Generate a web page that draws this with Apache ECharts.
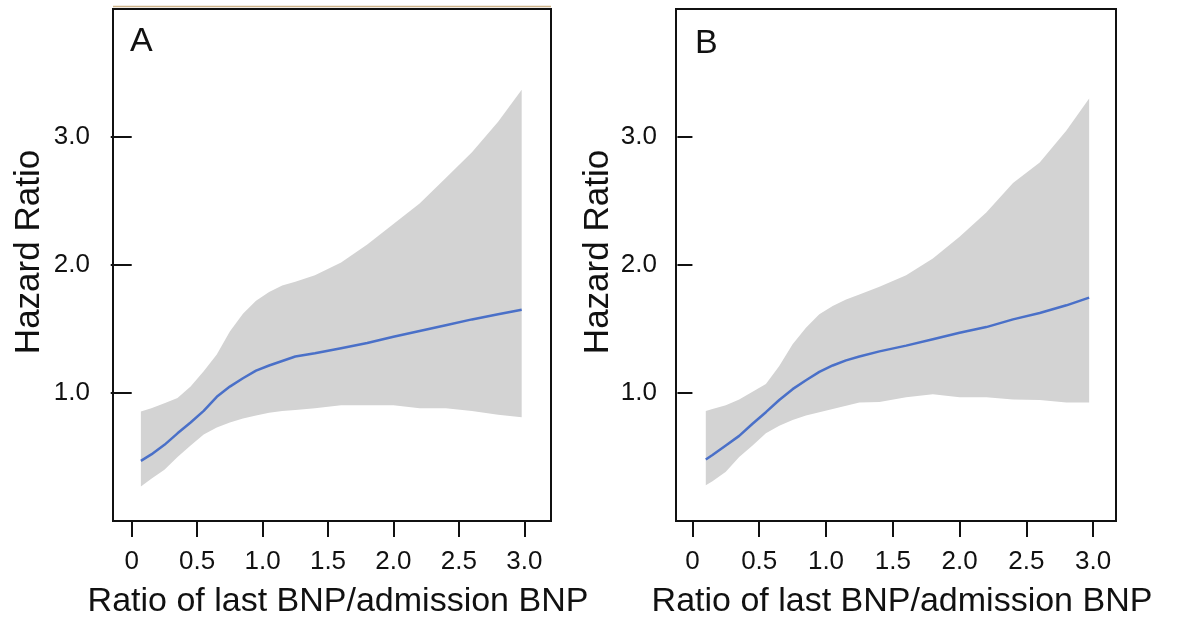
<!DOCTYPE html>
<html>
<head>
<meta charset="utf-8">
<script src="https://cdn.jsdelivr.net/npm/echarts@6/dist/echarts.min.js"></script>
<style>
html,body{margin:0;padding:0;background:#fff;}
#chart{width:1183px;height:625px;}
</style>
</head>
<body>
<div id="chart"></div>
<script>
// ---- Data ----
const xA    = [0.07,0.15,0.25,0.35,0.45,0.55,0.65,0.75,0.85,0.95,1.05,1.15,1.25,1.4,1.6,1.8,2.0,2.2,2.4,2.6,2.8,2.98];
const meanA = [0.47,0.52,0.595,0.685,0.77,0.86,0.97,1.05,1.115,1.175,1.215,1.25,1.285,1.31,1.35,1.39,1.44,1.485,1.53,1.575,1.615,1.65];
const lowA  = [0.27,0.33,0.40,0.50,0.59,0.675,0.73,0.77,0.80,0.825,0.845,0.86,0.868,0.88,0.905,0.905,0.905,0.88,0.88,0.86,0.83,0.81];
const upA   = [0.855,0.88,0.92,0.96,1.05,1.17,1.30,1.48,1.62,1.72,1.79,1.84,1.87,1.92,2.02,2.16,2.32,2.48,2.68,2.88,3.12,3.37];

const xB    = [0.10,0.15,0.25,0.35,0.45,0.55,0.65,0.75,0.85,0.95,1.05,1.15,1.25,1.4,1.6,1.8,2.0,2.2,2.4,2.6,2.8,2.97];
const meanB = [0.48,0.515,0.59,0.665,0.76,0.85,0.945,1.03,1.10,1.165,1.215,1.255,1.285,1.325,1.37,1.42,1.47,1.515,1.575,1.625,1.685,1.745];
const lowB  = [0.28,0.31,0.385,0.50,0.59,0.685,0.745,0.79,0.825,0.85,0.875,0.90,0.925,0.93,0.966,0.99,0.966,0.966,0.95,0.945,0.925,0.925];
const upB   = [0.86,0.875,0.905,0.95,1.01,1.07,1.21,1.38,1.51,1.615,1.68,1.73,1.77,1.83,1.92,2.05,2.22,2.41,2.64,2.80,3.05,3.30];

const xTicks = [0,0.5,1.0,1.5,2.0,2.5,3.0];
const yTicks = [1.0,2.0,3.0];
const panelLabels = ['A','B'];
const xTitle = 'Ratio of last BNP/admission BNP';
const yTitle = 'Hazard Ratio';

// ---- Styling ----
const FONT = "'Liberation Sans', Arial, Helvetica, sans-serif";
const INK = '#111';
const BAND = '#d3d3d3';
const LINE = '#4a70c8';

const fmt = v => (v === 0 ? '0' : Number(v).toFixed(1));

function bandRender(xs, lo, hi) {
  return function (params, api) {
    if (params.dataIndex !== 0) return null;
    const pts = [];
    for (let i = 0; i < xs.length; i++) pts.push(api.coord([xs[i], hi[i]]));
    for (let i = xs.length - 1; i >= 0; i--) pts.push(api.coord([xs[i], lo[i]]));
    return { type: 'polygon', shape: { points: pts }, style: { fill: BAND } };
  };
}

function xAxisCfg(gi, min, max) {
  return {
    gridIndex: gi, type: 'value', min: min, max: max, position: 'bottom', offset: 3,
    axisLine: { show: false },
    axisTick: { show: true, inside: false, length: 16, customValues: xTicks, lineStyle: { color: INK, width: 2 } },
    axisLabel: { customValues: xTicks, formatter: fmt, fontSize: 26, color: INK, margin: 25, fontFamily: FONT },
    splitLine: { show: false },
    name: xTitle, nameLocation: 'middle', nameGap: 61,
    nameTextStyle: { fontSize: 34, color: INK, fontFamily: FONT, padding: [0, 0, 0, 12] }
  };
}
function yAxisCfg(gi, tickLen, margin, gap) {
  return {
    gridIndex: gi, type: 'value', min: 0, max: 4,
    axisLine: { show: false },
    axisTick: { show: true, inside: false, length: tickLen, customValues: yTicks, lineStyle: { color: INK, width: 2 } },
    axisLabel: { customValues: yTicks, formatter: fmt, fontSize: 26, color: INK, margin: margin, fontFamily: FONT },
    splitLine: { show: false },
    name: yTitle, nameLocation: 'middle', nameGap: gap, nameRotate: 90,
    nameTextStyle: { fontSize: 35, color: INK, fontFamily: FONT, padding: [0, 0, 0, 26] }
  };
}

const chart = echarts.init(document.getElementById('chart'), null, { renderer: 'canvas' });
chart.setOption({
  animation: false,
  backgroundColor: '#fff',
  title: [
    { text: panelLabels[0], left: 125, top: 20, textStyle: { fontSize: 34, fontWeight: 'normal', color: INK, fontFamily: FONT } },
    { text: panelLabels[1], left: 690, top: 22, textStyle: { fontSize: 34, fontWeight: 'normal', color: INK, fontFamily: FONT } }
  ],
  graphic: [
    { type: 'line', shape: { x1: 113, y1: 6.5, x2: 551, y2: 6.5 }, style: { stroke: '#cdb38a', lineWidth: 1.5 }, z: 10, silent: true }
  ],
  grid: [
    { left: 113, top: 9, width: 438, height: 512, show: true, borderColor: INK, borderWidth: 2, backgroundColor: 'transparent' },
    { left: 676, top: 9, width: 440, height: 512, show: true, borderColor: INK, borderWidth: 2, backgroundColor: 'transparent' }
  ],
  xAxis: [ xAxisCfg(0, -0.143, 3.204), xAxisCfg(1, -0.123, 3.171) ],
  yAxis: [ yAxisCfg(0, 21, 23, 66), yAxisCfg(1, 15, 19, 60) ],
  series: [
    { type: 'custom', xAxisIndex: 0, yAxisIndex: 0, z: 1, silent: true,
      renderItem: bandRender(xA, lowA, upA),
      data: xA.map((x, i) => [x, lowA[i], upA[i]]) },
    { type: 'line', xAxisIndex: 0, yAxisIndex: 0, z: 3, showSymbol: false, silent: true,
      lineStyle: { color: LINE, width: 2.5 },
      data: xA.map((x, i) => [x, meanA[i]]) },
    { type: 'custom', xAxisIndex: 1, yAxisIndex: 1, z: 1, silent: true,
      renderItem: bandRender(xB, lowB, upB),
      data: xB.map((x, i) => [x, lowB[i], upB[i]]) },
    { type: 'line', xAxisIndex: 1, yAxisIndex: 1, z: 3, showSymbol: false, silent: true,
      lineStyle: { color: LINE, width: 2.5 },
      data: xB.map((x, i) => [x, meanB[i]]) }
  ]
});
</script>
</body>
</html>
